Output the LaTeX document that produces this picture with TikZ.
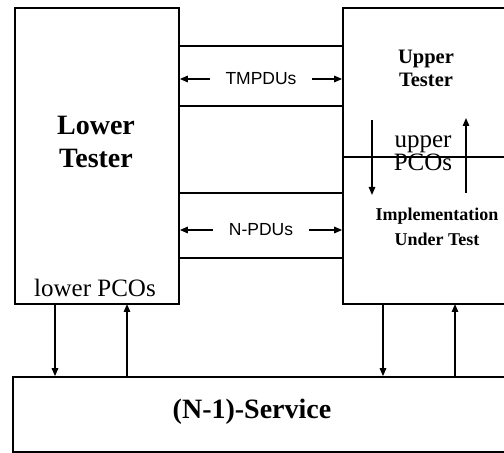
\documentclass[tikz,border=0pt]{standalone}
\usepackage{fontspec}
\setmainfont{Liberation Serif}
\setsansfont{Liberation Sans}
\usetikzlibrary{arrows.meta,positioning}

\begin{document}
\begin{tikzpicture}[x=1pt,y=1pt,line width=1.4pt,
  box/.style={draw,line width=1.7pt,inner sep=0pt},
  title/.style={font=\bfseries\fontsize{28}{33}\selectfont,align=center},
  sub/.style={font=\bfseries\fontsize{20.5}{23}\selectfont,align=center},
  pco/.style={font=\fontsize{25}{20}\selectfont,align=center},
  pdu/.style={font=\sffamily\fontsize{17.5}{17.5}\selectfont,inner xsep=15pt},
  flow/.style={-{Triangle[length=8pt,width=6.5pt]},line width=1.4pt}]
  \useasboundingbox (0,0) rectangle (504,453);
  \clip (0,0) rectangle (504,453);
  \node[box,minimum width=164,minimum height=296] (lt) at (97,297) {};
  \node[box,minimum width=187,minimum height=296] (sut) at (436.5,297) {};
  \node[box,minimum width=517,minimum height=75] (service) at (271.5,38.5) {};
  \foreach \y in {407,347,260,195}
    \draw (lt.east |- 0,\y) -- (sut.west |- 0,\y);
  \draw (sut.west |- 0,296) -- (sut.east |- 0,296);
  \node[title] (ltname) at (96,311) {Lower\\Tester};
  \node[pco] (lpco) at (95,165) {lower PCOs};
  \node[sub] (utname) at (426,385) {Upper\\Tester};
  \node[pco] (upco) at (423,300) {upper\\PCOs};
  \node[font=\bfseries\fontsize{18}{25}\selectfont,align=center] (iut) at (437,226) {Implementation\\Under Test};
  \node[title] (svname) at (252,41) {(N-1)-Service};
  \foreach \n/\t/\y in {tm/TMPDUs/374,np/N-PDUs/223} {
    \node[pdu] (\n) at (261,\y) {\t};
    \draw[flow] (\n.west) -- (\n.west -| lt.east);
    \draw[flow] (\n.east) -- (\n.east -| sut.west);
  }
  \coordinate (dtop) at (372,333);
  \coordinate (dbot) at (372,258);
  \coordinate (utop) at (466,335);
  \coordinate (ubot) at (466,260);
  \draw[flow] (dtop) -- (dbot);
  \draw[flow] (ubot) -- (utop);
  \foreach \x in {55,383}
    \draw[flow] (\x,149) -- (service.north -| \x,0);
  \foreach \x in {127,455}
    \draw[flow] (service.north -| \x,0) -- (\x,149);
\end{tikzpicture}
\end{document}
